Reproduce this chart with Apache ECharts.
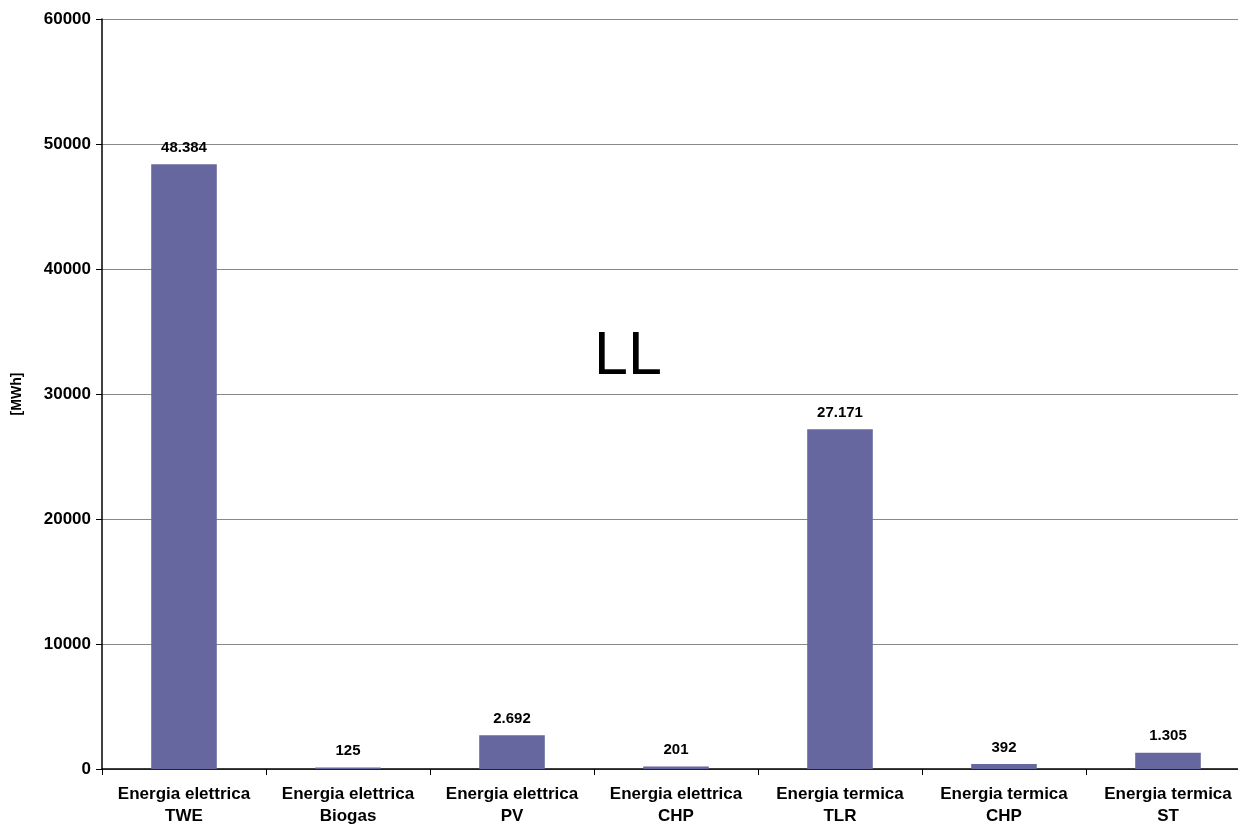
<!DOCTYPE html>
<html><head><meta charset="utf-8">
<script src="https://cdn.jsdelivr.net/npm/echarts@6/dist/echarts.min.js"></script>
<style>html,body{margin:0;padding:0;background:#fff;overflow:hidden;width:1238px;height:840px}#c{width:1251px;height:840px}</style>
</head><body><div id="c"></div>
<script>
const categories = ["Energia elettrica\nTWE","Energia elettrica\nBiogas","Energia elettrica\nPV","Energia elettrica\nCHP","Energia termica\nTLR","Energia termica\nCHP","Energia termica\nST"];
const values = [48384, 125, 2692, 201, 27171, 392, 1305];
const valueLabels = ["48.384","125","2.692","201","27.171","392","1.305"];
const yTicks = [0,10000,20000,30000,40000,50000,60000];
const font = '"Liberation Sans Narrow","Arial Narrow","Liberation Sans",sans-serif';
const chart = echarts.init(document.getElementById('c'), null, {renderer:'canvas'});
chart.setOption({
  animation:false,
  backgroundColor:'#fff',
  grid:{left:102,right:1,top:19,bottom:71,containLabel:false},
  graphic:[{type:'text',left:594,top:327,style:{text:'LL',font:'61px "Liberation Sans",Arial,sans-serif',fill:'#000'}}],
  xAxis:{type:'category',data:categories,
    axisLine:{lineStyle:{color:'#000',width:1.5}},
    axisTick:{show:true,interval:0,length:6,lineStyle:{color:'#000'}},
    axisLabel:{interval:0,color:'#000',fontFamily:font,fontWeight:'bold',fontSize:17,lineHeight:22,margin:14}},
  yAxis:{type:'value',min:0,max:60000,interval:10000,
    name:'[MWh]',nameLocation:'middle',nameGap:78,nameRotate:90,
    nameTextStyle:{color:'#000',fontFamily:font,fontWeight:'bold',fontSize:14},
    axisLine:{show:true,lineStyle:{color:'#000',width:1.5}},
    axisTick:{show:true,length:6,inside:false,lineStyle:{color:'#000'}},
    axisLabel:{color:'#000',fontFamily:font,fontWeight:'bold',fontSize:17,margin:11,
      formatter:v=>yTicks.includes(v)?String(v):''},
    splitLine:{lineStyle:{color:'#888',width:1}}},
  series:[{type:'bar',data:values,barWidth:'40%',
    itemStyle:{color:'#67679f'},
    label:{show:true,position:'top',distance:9,color:'#000',fontFamily:font,fontWeight:'bold',fontSize:15,
      formatter:p=>valueLabels[p.dataIndex]}}]
});
</script></body></html>
